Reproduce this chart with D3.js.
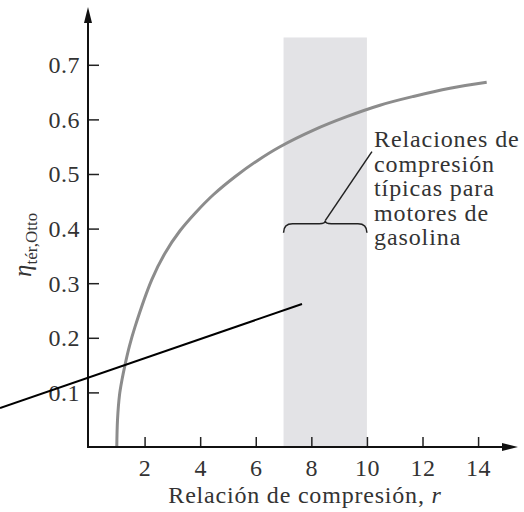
<!DOCTYPE html>
<html>
<head>
<meta charset="utf-8">
<script src="https://cdn.jsdelivr.net/npm/d3@7"></script>
<style>
  body { margin: 0; background: #fff; }
  svg text { font-family: "Liberation Serif", "Times New Roman", serif; fill: #333; }
</style>
</head>
<body>
<svg id="chart" width="524" height="512"></svg>
<script>
// values
const rValues   = [1.0, 1.025, 1.097, 1.187, 1.295, 1.457, 1.655, 2.256, 2.734, 3.274, 3.85, 4.473, 5.253, 6.044, 6.872, 8.06, 9.272, 10.47, 11.67, 12.99, 14.31];
const etaValues = [0, 0.049, 0.095, 0.123, 0.150, 0.185, 0.220, 0.306, 0.355, 0.396, 0.430, 0.462, 0.495, 0.524, 0.550, 0.580, 0.605, 0.626, 0.642, 0.657, 0.668];
const xTicks = [2, 4, 6, 8, 10, 12, 14];
const yTicks = [0.1, 0.2, 0.3, 0.4, 0.5, 0.6, 0.7];
const bandRange = [7, 10];
const bandTop = 0.75;
const noteLines = ['Relaciones de', 'compresión', 'típicas para', 'motores de', 'gasolina'];

const svg = d3.select('#chart');

const x = d3.scaleLinear().domain([0, 15.4]).range([89, 517]);
const y = d3.scaleLinear().domain([0, 0.804]).range([447, 8]);

// shaded band
svg.append('rect')
  .attr('x', x(bandRange[0]))
  .attr('y', y(bandTop))
  .attr('width', x(bandRange[1]) - x(bandRange[0]))
  .attr('height', y(0) - y(bandTop))
  .attr('fill', '#e3e3e6');

// efficiency curve
const pts = rValues.map((r, i) => [r, etaValues[i]]);
svg.append('path')
  .datum(pts)
  .attr('fill', 'none')
  .attr('stroke', '#8c8c8c')
  .attr('stroke-width', 3)
  .attr('d', d3.line().x(d => x(d[0])).y(d => y(d[1])).curve(d3.curveCatmullRom.alpha(0.5)));

// axes
const yAxis = d3.axisLeft(y).tickValues(yTicks).tickSizeInner(-11).tickSizeOuter(0).tickPadding(8)
  .tickFormat(d3.format('.1f'));
const gy = svg.append('g').attr('transform', `translate(${x(0) - 1},0)`).call(yAxis);
gy.select('.domain').remove();

const xAxis = d3.axisBottom(x).tickValues(xTicks).tickSizeInner(-10).tickSizeOuter(0).tickPadding(12);
const gx = svg.append('g').attr('transform', `translate(0,${y(0)})`).call(xAxis);
gx.select('.domain').remove();

svg.selectAll('.tick line').attr('stroke', '#222').attr('stroke-width', 1.5);
svg.selectAll('.tick text')
  .style('font-size', '24px')
  .attr('fill', '#444')
  .style('letter-spacing', '0.5px');
gy.selectAll('.tick text').attr('dy', '0.33em');

// axis lines with arrows
svg.append('line')
  .attr('x1', x(0) - 1).attr('x2', x(0) - 1)
  .attr('y1', y(0) + 1).attr('y2', 20)
  .attr('stroke', '#111').attr('stroke-width', 2);
svg.append('path')
  .attr('d', `M${x(0) - 1},7 L${x(0) - 5},23 L${x(0) + 3},23 Z`)
  .attr('fill', '#111');
svg.append('line')
  .attr('x1', x(0) - 2).attr('x2', 506)
  .attr('y1', y(0)).attr('y2', y(0))
  .attr('stroke', '#111').attr('stroke-width', 2);
svg.append('path')
  .attr('d', `M518,${y(0)} L502,${y(0) - 4} L502,${y(0) + 4} Z`)
  .attr('fill', '#111');

// axis titles
svg.append('text')
  .attr('x', 305).attr('y', 503)
  .attr('text-anchor', 'middle')
  .style('font-size', '24px')
  .style('letter-spacing', '0.8px')
  .html('Relación de compresión, <tspan font-style="italic">r</tspan>');

const ylab = svg.append('text')
  .attr('transform', 'translate(31,277) rotate(-90)')
  .style('font-size', '25px');
ylab.append('tspan').attr('font-style', 'italic').text('η');
ylab.append('tspan').attr('dy', 6).style('font-size', '17px').text('tér,Otto');

// brace for typical compression ratios
const bx0 = x(bandRange[0]), bx1 = x(bandRange[1]), bm = (bx0 + bx1) / 2;
const by = y(0.409);
svg.append('path')
  .attr('fill', 'none')
  .attr('stroke', '#222')
  .attr('stroke-width', 1.5)
  .attr('d', `M${bx0},${by + 9} Q${bx0},${by} ${bx0 + 9},${by} L${bm - 6},${by} Q${bm},${by} ${bm},${by - 3}
              Q${bm},${by} ${bm + 6},${by} L${bx1 - 9},${by} Q${bx1},${by} ${bx1},${by + 9}`);

// leader line from brace to note
svg.append('line')
  .attr('x1', bm).attr('y1', by - 3)
  .attr('x2', x(10.18)).attr('y2', y(0.541))
  .attr('stroke', '#222').attr('stroke-width', 1.5);

svg.append('text')
  .attr('x', 374).attr('y', 147)
  .style('font-size', '24px')
  .style('letter-spacing', '0.9px')
  .selectAll('tspan')
  .data(noteLines)
  .join('tspan')
  .attr('x', 374)
  .attr('dy', (d, i) => i === 0 ? 0 : 24.5)
  .text(d => d);

// stray black line across the plot
svg.append('line')
  .attr('x1', 0).attr('y1', 408)
  .attr('x2', 302).attr('y2', 304)
  .attr('stroke', '#000').attr('stroke-width', 2);
</script>
</body>
</html>
